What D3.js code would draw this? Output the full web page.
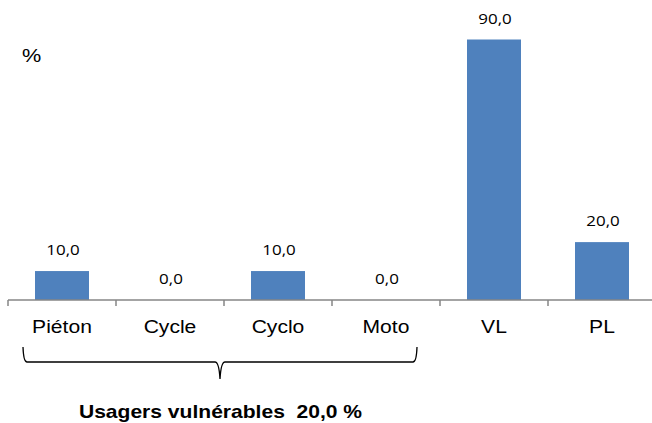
<!DOCTYPE html>
<html>
<head>
<meta charset="utf-8">
<script src="https://cdn.jsdelivr.net/npm/d3@7"></script>
<style>
  body { margin: 0; background: #fff; }
  svg { display: block; }
</style>
</head>
<body>
<svg id="chart"></svg>
<script>
const categories = ["Piéton", "Cycle", "Cyclo", "Moto", "VL", "PL"];
const values = [10, 0, 10, 0, 90, 20];
const groupLabel = "Usagers vulnérables  20,0 %";
const groupedCats = ["Piéton", "Cycle", "Cyclo", "Moto"];

const width = 652, height = 423;
// the source picture is a bit wider than tall, so glyphs get stretched too
const stretch = 1.14;
const svg = d3.select("#chart").attr("width", width).attr("height", height);

const x = d3.scaleBand()
  .domain(categories)
  .range([8, 656])
  .paddingInner(0.5)
  .paddingOuter(0.25);

const y = d3.scaleLinear()
  .domain([0, 90])
  .range([300, 39.5]);

const fmt = v => d3.format(".1f")(v).replace(".", ",");
const place = (px, py, s = stretch) => `translate(${px},${py}) scale(${s},1)`;

// bars
svg.append("g")
  .selectAll("rect")
  .data(values)
  .join("rect")
  .attr("x", (d, i) => x(categories[i]))
  .attr("y", d => y(d))
  .attr("width", x.bandwidth())
  .attr("height", d => y(0) - y(d))
  .attr("fill", "#4f81bd");

// value labels
svg.append("g")
  .selectAll("text")
  .data(values)
  .join("text")
  .attr("transform", (d, i) => place(x(categories[i]) + x.bandwidth() / 2 + 1, y(d) - 16, 1.17))
  .attr("text-anchor", "middle")
  .style("font-family", "'Open Sans', sans-serif")
  .style("font-size", "14.5px")
  .attr("fill", "#000")
  .text(d => fmt(d));

// axis
const step = x.step();
const axisG = svg.append("g");
axisG.append("line")
  .attr("x1", 8).attr("x2", width)
  .attr("y1", y(0)).attr("y2", y(0))
  .attr("stroke", "#868686").attr("stroke-width", 1.5);
axisG.selectAll("line.tick")
  .data(d3.range(categories.length + 1))
  .join("line")
  .attr("class", "tick")
  .attr("x1", i => 8 + i * step).attr("x2", i => 8 + i * step)
  .attr("y1", y(0)).attr("y2", y(0) + 6)
  .attr("stroke", "#868686").attr("stroke-width", 1.5);

axisG.selectAll("text")
  .data(categories)
  .join("text")
  .attr("transform", d => place(x(d) + x.bandwidth() / 2, 332.5))
  .attr("text-anchor", "middle")
  .style("font-family", "'Liberation Sans', Arial, sans-serif")
  .style("font-size", "18.5px")
  .attr("fill", "#000")
  .text(d => d);

// unit label
svg.append("text")
  .attr("transform", place(31.5, 62))
  .attr("text-anchor", "middle")
  .style("font-family", "'Liberation Sans', Arial, sans-serif")
  .style("font-size", "19px")
  .text("%");

// brace under the vulnerable users group
const xl = x(groupedCats[0]) - step * 0.25 + 15;
const xr = x(groupedCats[groupedCats.length - 1]) + x.bandwidth() + step * 0.25 - 23;
const xm = (xl + xr) / 2;
const by = 362, btop = 347, bpeak = 379;
const brace = d3.path();
brace.moveTo(xl, btop);
brace.quadraticCurveTo(xl + 0.5, by, xl + 4, by);
brace.lineTo(xm - 5, by);
brace.quadraticCurveTo(xm - 1, by, xm, bpeak);
brace.moveTo(xm, bpeak);
brace.quadraticCurveTo(xm + 1, by, xm + 5, by);
brace.lineTo(xr - 4, by);
brace.quadraticCurveTo(xr - 0.5, by, xr, btop);
svg.append("path")
  .attr("d", brace.toString())
  .attr("fill", "none")
  .attr("stroke", "#000")
  .attr("stroke-width", 1.3);

svg.append("text")
  .attr("transform", place((78 + 363) / 2, 418, 1.17))
  .attr("text-anchor", "middle")
  .style("font-family", "'Liberation Sans', Arial, sans-serif")
  .style("font-size", "18px")
  .style("font-weight", "bold")
  .style("white-space", "pre")
  .attr("xml:space", "preserve")
  .text(groupLabel);
</script>
</body>
</html>
